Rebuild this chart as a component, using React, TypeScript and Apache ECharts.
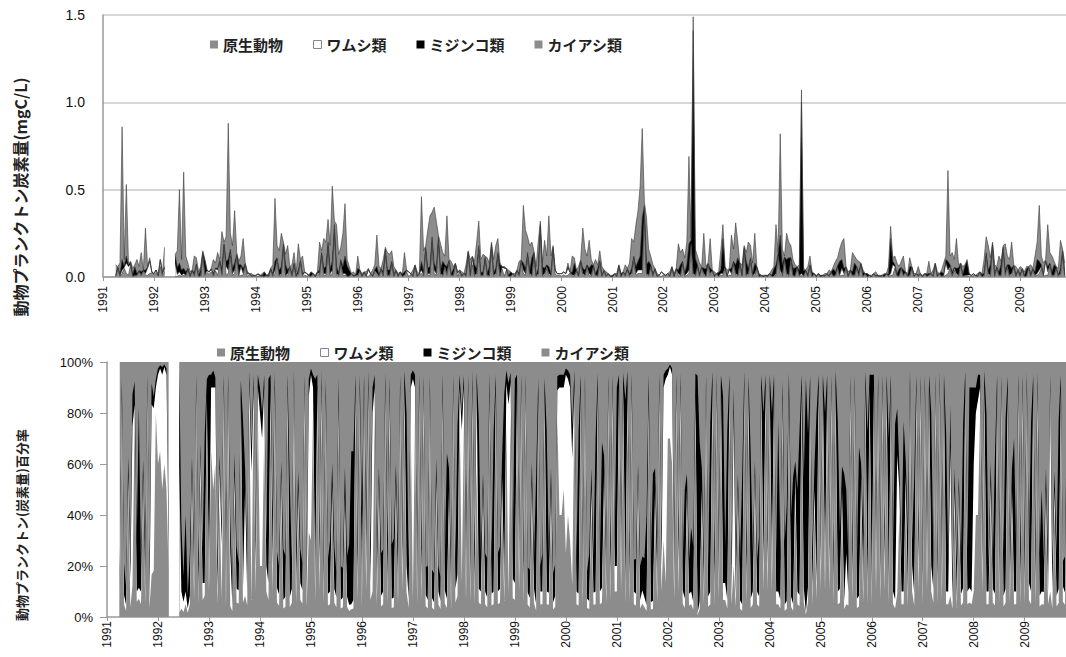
import React, { useEffect, useRef } from 'react';
import * as echarts from 'echarts';

const n = null;

const SERIES_NAMES = ['原生動物', 'ワムシ類', 'ミジンコ類', 'カイアシ類'];
const SERIES_COLORS = ['#8c8c8c', '#ffffff', '#000000', '#8c8c8c'];
const START_YEAR = 1991;
const SAMPLES_PER_YEAR = 24; // semi-monthly samples (1st and 16th)
const TOP_TITLE = '動物プランクトン炭素量(mgC/L)';
const BOTTOM_TITLE = '動物プランクトン(炭素量)百分率';

// 原生動物 (mgC/L), rows = years 1991..2009, Jan–Jun | Jul–Dec
const PROTO: (number | null)[] = [
  n,n,n,n,n,n,.004,.05,.004,.02,.05,.02, .01,.07,.003,.005,.005,.03,.007,.034,.01,.01,.02,.024,
  .012,.026,.005,.06,.01,.03,n,n,n,n,.002,.005, .01,.005,.01,.006,.04,.002,.034,.006,.06,.002,.005,.12,
  .01,.026,.015,.03,.005,.035,.01,.08,.01,.16,.01,.02, .12,.01,.02,.11,.005,.01,.01,.065,.002,.016,.002,.008,
  .002,.004,.007,.002,.002,.008,.002,.04,.004,.02,.08,.005, .01,.16,.005,.01,.045,.004,.06,.002,.01,.08,.005,.01,
  .006,.008,.002,.016,.001,.024,.01,.12,.01,.01,.15,.01, .02,.25,.01,.005,.07,.01,.01,.003,.002,.016,.002,.008,
  .005,.032,.002,.024,.002,.005,.016,.002,.03,.01,.003,.04, .005,.13,.005,.005,.07,.003,.032,.002,.024,.002,.005,.03,
  .002,.016,.002,.056,.002,.016,.02,.005,.14,.01,.01,.17, .02,.01,.19,.01,.005,.05,.01,.08,.005,.005,.065,.004,
  .03,.002,.016,.004,.12,.005,.07,.005,.01,.13,.005,.005, .095,.005,.004,.16,.005,.01,.1,.005,.045,.005,.04,.003,
  .002,.016,.002,.032,.005,.08,.02,.01,.1,.01,.005,.12, .003,.01,.25,.004,.01,.05,.01,.005,.14,.016,.008,.01,
  .005,.012,.006,.01,.024,.006,.005,.032,.003,.08,.01,.005, .05,.01,.005,.056,.005,.004,.07,.003,.032,.002,.016,.001,
  .001,.016,.002,.056,.001,.024,.004,.04,.004,.01,.09,.01, .02,.02,.02,.34,.01,.005,.05,.004,.04,.002,.003,.004,
  .014,.007,.012,.002,.048,.002,.04,.01,.005,.07,.005,.01, .02,.17,.01,.005,.05,.004,.048,.01,.003,.065,.01,.032,
  .002,.016,.002,.01,.01,.048,.002,.01,.01,.07,.01,.005, .065,.004,.14,.005,.01,.08,.004,.01,.048,.002,.008,.001,
  .008,.001,.016,.002,.003,.01,.11,.02,.005,.095,.01,.005, .08,.005,.003,.048,.004,.01,.003,.032,.003,.05,.002,.016,
  .001,.016,.001,.008,.002,.016,.002,.024,.003,.005,.045,.005, .01,.01,.048,.002,.032,.005,.005,.045,.005,.065,.002,.016,
  .001,.008,.001,.016,.002,.008,.001,.008,.001,.016,.003,.01, .01,.05,.004,.003,.04,.005,.024,.002,.005,.048,.002,.016,
  .003,.016,.001,.016,.002,.005,.016,.002,.065,.002,.016,.002, .004,.01,.02,.05,.005,.04,.01,.004,.065,.003,.004,.005,
  .002,.004,.008,.008,.002,.024,.001,.005,.1,.01,.005,.16, .004,.048,.005,.005,.14,.01,.05,.005,.01,.056,.003,.032,
  .003,.04,.002,.003,.048,.004,.04,.005,.01,.02,.05,.004, .01,.01,.06,.005,.005,.048,.003,.01,.13,.004,
];

// ワムシ類 (mgC/L)
const ROTIFER: (number | null)[] = [
  n,n,n,n,n,n,.002,.002,.003,.02,.005,.06, .05,.005,.002,.003,.005,.003,.005,.002,.01,.04,.07,.003,
  .007,.013,.0045,.038,.009,.02,n,n,n,n,.075,.01, .02,.005,.01,.004,.005,.002,.002,.004,.01,.002,.003,.01,
  .005,.01,.012,.015,.005,.012,.03,.01,.01,.02,.05,.02, .02,.01,.02,.01,.005,.05,.01,.008,.015,.002,.002,.001,
  .006,.01,.002,.002,.002,.001,.002,.005,.004,.02,.02,.005, .01,.02,.005,.01,.01,.004,.01,.002,.01,.01,.005,.016,
  .013,.001,.002,.002,.001,.003,.01,.01,.01,.01,.02,.01, .02,.02,.01,.005,.01,.01,.01,.002,.002,.002,.002,.001,
  .005,.004,.002,.003,.002,.035,.002,.002,.007,.01,.003,.005, .005,.02,.005,.005,.01,.003,.004,.002,.003,.002,.005,.006,
  .026,.002,.002,.007,.002,.002,.02,.005,.02,.01,.01,.03, .02,.01,.02,.01,.005,.01,.01,.01,.005,.005,.007,.018,
  .006,.002,.002,.004,.015,.005,.04,.005,.01,.03,.005,.005, .01,.005,.004,.02,.005,.01,.02,.005,.01,.045,.006,.003,
  .002,.002,.002,.004,.005,.01,.02,.01,.02,.01,.005,.01, .003,.01,.03,.004,.01,.01,.01,.005,.02,.02,.01,.008,
  .014,.016,.012,.04,.003,.006,.005,.004,.003,.01,.01,.005, .01,.01,.005,.007,.005,.004,.015,.003,.004,.002,.002,.001,
  .001,.002,.002,.007,.001,.003,.004,.005,.004,.01,.02,.01, .02,.02,.02,.03,.01,.005,.01,.004,.005,.002,.006,.024,
  .005,.0028,.007,.002,.006,.002,.005,.01,.005,.01,.005,.01, .02,.02,.01,.005,.01,.004,.006,.01,.003,.008,.01,.004,
  .002,.002,.002,.01,.01,.006,.002,.03,.01,.01,.01,.005, .008,.004,.02,.005,.01,.02,.004,.01,.006,.002,.001,.001,
  .001,.001,.002,.002,.003,.01,.01,.02,.005,.01,.01,.005, .02,.005,.003,.006,.004,.01,.003,.004,.003,.01,.002,.002,
  .001,.002,.001,.001,.002,.002,.002,.003,.003,.005,.01,.005, .04,.01,.006,.002,.004,.005,.005,.01,.005,.008,.002,.002,
  .001,.001,.001,.002,.002,.001,.001,.001,.001,.002,.003,.01, .06,.01,.004,.003,.01,.005,.003,.002,.005,.006,.002,.002,
  .003,.002,.001,.002,.002,.005,.002,.002,.008,.002,.002,.002, .004,.07,.02,.01,.005,.01,.01,.004,.008,.003,.004,.005,
  .01,.004,.009,.001,.002,.003,.001,.005,.02,.01,.005,.02, .004,.006,.005,.005,.02,.01,.01,.005,.01,.007,.003,.004,
  .003,.005,.002,.003,.006,.004,.005,.005,.01,.02,.01,.004, .08,.02,.01,.005,.005,.006,.003,.01,.01,.004,
];

// ミジンコ類 (mgC/L)
const CLADOCERA: (number | null)[] = [
  n,n,n,n,n,n,.007,.004,.01,.06,.008,.04, .01,.008,.01,.05,.01,.004,.02,.002,.02,.005,.005,.001,
  .0005,.0005,.0003,.001,.0005,.01,n,n,n,n,.05,.04, .05,.03,.03,.02,.005,.003,.002,.015,.005,.004,.035,.01,
  .08,.002,.002,.002,.01,.004,.01,.005,.03,.01,.03,.06, .02,.03,.04,.01,.06,.01,.03,.004,.003,.001,.002,.0005,
  .001,.002,.0005,.002,.024,.0005,.004,.003,.01,.05,.01,.03, .04,.01,.06,.02,.003,.01,.01,.004,.02,.005,.01,.002,
  .0005,.0005,.024,.001,.001,.002,.02,.01,.03,.04,.03,.03, .05,.03,.04,.015,.02,.04,.1,.06,.035,.001,.004,.0005,
  .04,.002,.003,.002,.004,.005,.001,.005,.004,.04,.01,.003, .02,.01,.03,.03,.01,.01,.002,.002,.002,.012,.02,.002,
  .001,.001,.005,.004,.004,.001,.05,.02,.01,.03,.04,.03, .04,.03,.02,.02,.08,.01,.04,.005,.01,.035,.004,.002,
  .002,.004,.001,.01,.01,.015,.005,.06,.03,.02,.015,.02, .01,.015,.05,.01,.015,.03,.02,.06,.003,.005,.002,.004,
  .024,.001,.002,.002,.01,.005,.04,.03,.02,.02,.1,.01, .006,.03,.02,.05,.03,.01,.04,.015,.01,.002,.001,.001,
  .0005,.001,.001,.01,.002,.015,.07,.002,.006,.005,.03,.03, .01,.03,.06,.004,.01,.04,.01,.006,.002,.004,.001,.001,
  .007,.001,.002,.004,.015,.002,.007,.003,.01,.03,.01,.04, .05,.08,.3,.04,.05,.08,.01,.01,.003,.002,.0005,.001,
  .0005,.0001,.0005,.004,.003,.002,.003,.02,.06,.01,.015,.05, .15,.02,1.39,.1,.01,.01,.003,.03,.04,.004,.03,.002,
  .004,.001,.022,.02,.2,.003,.004,.005,.03,.01,.05,.1, .004,.01,.01,.08,.03,.01,.01,.06,.003,.012,.0005,.001,
  .0005,.006,.001,.006,.04,.05,.01,.2,.06,.01,.08,.1, .01,.04,.045,.003,.03,.98,.03,.002,.01,.01,.02,.001,
  .001,.001,.006,.0005,.002,.001,.004,.002,.04,.02,.01,.08, .05,.03,.003,.004,.002,.02,.07,.005,.02,.004,.025,.001,
  .017,.0005,.001,.001,.004,.0005,.001,.0005,.012,.001,.01,.2, .02,.01,.01,.04,.005,.03,.002,.002,.05,.003,.002,.001,
  .006,.001,.001,.001,.012,.01,.001,.004,.004,.004,.001,.025, .01,.02,.05,.01,.02,.005,.03,.045,.004,.01,.055,.08,
  .006,.001,.002,.0005,.002,.002,.014,.01,.02,.02,.06,.01, .01,.003,.02,.06,.01,.02,.01,.06,.03,.004,.01,.002,
  .01,.003,.004,.04,.003,.01,.003,.02,.08,.05,.01,.01, .005,.03,.01,.02,.06,.003,.005,.03,.01,.01,
];

// カイアシ類 (mgC/L)
const COPEPODA: (number | null)[] = [
  n,n,n,n,n,n,.057,.004,.063,.76,.037,.41, .01,.007,.035,.012,.08,.023,.108,.002,.24,.005,.015,.002,
  .0005,.0005,.0002,.001,.0005,.11,n,n,n,n,.003,.095, .42,.06,.55,.09,.03,.023,.002,.095,.035,.022,.017,.01,
  .005,.002,.001,.003,.08,.029,.09,.005,.21,.01,.14,.78, .09,.13,.3,.01,.02,.05,.17,.003,.01,.001,.014,.0005,
  .001,.004,.0005,.014,.002,.0005,.012,.002,.052,.36,.07,.11, .19,.01,.06,.14,.002,.052,.06,.022,.15,.005,.1,.002,
  .0005,.0005,.002,.001,.007,.001,.16,.01,.17,.14,.13,.13, .43,.02,.24,.105,.07,.19,.3,.035,.021,.001,.022,.0005,
  .07,.002,.013,.001,.022,.005,.001,.031,.029,.18,.044,.002, .07,.01,.1,.09,.06,.044,.002,.014,.001,.004,.11,.002,
  .001,.001,.031,.003,.022,.001,.37,.12,.01,.22,.29,.14, .32,.27,.01,.15,.05,.05,.29,.005,.07,.015,.004,.006,
  .002,.022,.001,.052,.005,.075,.005,.02,.15,.14,.075,.1, .005,.085,.022,.01,.075,.13,.08,.01,.002,.005,.002,.03,
  .002,.001,.014,.002,.07,.005,.33,.22,.09,.14,.09,.01, .048,.15,.02,.022,.16,.05,.29,.095,.01,.002,.001,.001,
  .0005,.001,.001,.02,.001,.093,.03,.002,.048,.005,.23,.12, .05,.16,.03,.003,.08,.022,.055,.048,.002,.022,.001,.007,
  .001,.001,.014,.003,.003,.001,.055,.002,.062,.17,.08,.24, .29,.4,.51,.02,.27,.07,.05,.052,.002,.014,.0005,.001,
  .0005,.0001,.0005,.022,.003,.014,.002,.15,.07,.07,.085,.13, .5,.01,.08,.05,.05,.062,.003,.2,.014,.003,.17,.002,
  .022,.001,.004,.11,.08,.003,.032,.005,.19,.07,.24,.09, .003,.052,.01,.05,.15,.07,.062,.17,.003,.004,.0005,.007,
  .0005,.002,.001,.03,.014,.23,.01,.58,.09,.005,.15,.09, .07,.05,.019,.003,.032,.07,.014,.002,.044,.05,.006,.001,
  .007,.001,.002,.0005,.014,.001,.032,.001,.014,.06,.045,.07, .1,.17,.003,.022,.002,.11,.04,.04,.06,.003,.011,.001,
  .001,.0005,.007,.001,.022,.0005,.007,.0005,.006,.001,.044,.07, .02,.05,.062,.014,.035,.08,.001,.014,.05,.003,.014,.001,
  .048,.001,.007,.001,.004,.07,.001,.032,.003,.022,.001,.011, .062,.02,.52,.05,.11,.045,.17,.017,.003,.044,.007,.01,
  .002,.001,.001,.0005,.014,.001,.004,.08,.09,.14,.04,.01, .052,.003,.09,.02,.01,.15,.05,.03,.15,.003,.044,.002,
  .044,.002,.022,.014,.003,.052,.002,.09,.1,.32,.05,.062, .005,.24,.06,.09,.02,.003,.039,.16,.01,.062,
];

const RAW = [PROTO, ROTIFER, CLADOCERA, COPEPODA];

export default function App() {
  const ref = useRef<HTMLDivElement>(null);

  useEffect(() => {
    if (!ref.current) return;
    const chart = echarts.init(ref.current, null, { renderer: 'svg' });

    const len = PROTO.length;
    const X: number[] = [];
    for (let i = 0; i < len; i++) X.push(START_YEAR + i / SAMPLES_PER_YEAR);

    // cumulative (stacked) tops of each layer, bottom layer first
    const cumAbs: (number | null)[][] = RAW.map(() => []);
    const cumPct: (number | null)[][] = RAW.map(() => []);
    for (let i = 0; i < len; i++) {
      const vals = RAW.map((a) => a[i]);
      if (vals.some((v) => v == null)) {
        RAW.forEach((_, k) => {
          cumAbs[k].push(null);
          cumPct[k].push(null);
        });
        continue;
      }
      const total = (vals as number[]).reduce((s, v) => s + v, 0);
      let run = 0;
      (vals as number[]).forEach((v, k) => {
        run += v;
        cumAbs[k].push(run);
        cumPct[k].push(total > 0 ? (run / total) * 100 : null);
      });
    }

    const numFont = 'Liberation Sans, Arial, sans-serif';
    const jpFont = '"Noto Sans CJK JP", sans-serif';

    const yearFmt = (v: number) =>
      Math.abs(v - Math.round(v)) < 1e-6 ? String(Math.round(v)) : '';

    const series: any[] = [];
    // draw top layer first so lower layers paint over it (visually a stacked area)
    for (let k = RAW.length - 1; k >= 0; k--) {
      series.push({
        name: SERIES_NAMES[k],
        type: 'line',
        xAxisIndex: 0,
        yAxisIndex: 0,
        symbol: 'none',
        showSymbol: false,
        connectNulls: false,
        silent: true,
        color: SERIES_COLORS[k],
        itemStyle: { color: SERIES_COLORS[k] },
        lineStyle: { width: 0.6, color: '#3a3a3a' },
        areaStyle: { color: SERIES_COLORS[k], opacity: 1 },
        data: X.map((x, i) => [x, cumAbs[k][i]]),
      });
    }
    for (let k = RAW.length - 1; k >= 0; k--) {
      series.push({
        name: SERIES_NAMES[k],
        type: 'line',
        xAxisIndex: 1,
        yAxisIndex: 1,
        symbol: 'none',
        showSymbol: false,
        connectNulls: false,
        silent: true,
        color: SERIES_COLORS[k],
        itemStyle: { color: SERIES_COLORS[k] },
        lineStyle: { width: 0 },
        areaStyle: { color: SERIES_COLORS[k], opacity: 1 },
        data: X.map((x, i) => [x, cumPct[k][i]]),
      });
    }

    const legendData = SERIES_NAMES.map((name, i) => ({
      name,
      itemStyle:
        i === 1
          ? { color: '#ffffff', borderColor: '#888', borderWidth: 1 }
          : { color: SERIES_COLORS[i], borderWidth: 0 },
    }));
    const legendBase = {
      icon: 'rect',
      itemWidth: 8,
      itemHeight: 8,
      itemGap: 30,
      selectedMode: false,
      textStyle: { fontSize: 15, fontFamily: jpFont, fontWeight: 'bold', color: '#222' },
      data: legendData,
    };

    const xAxisBase = {
      type: 'value',
      min: 1991,
      interval: 1,
      axisLine: { show: true, onZero: false, lineStyle: { color: '#999', width: 1.5 } },
      axisTick: { show: true, length: 4, lineStyle: { color: '#999' } },
      splitLine: { show: false },
      axisLabel: { rotate: 90, formatter: yearFmt, fontSize: 12, fontFamily: numFont, color: '#111' },
    };

    chart.setOption({
      animation: false,
      backgroundColor: '#fff',
      grid: [
        { left: 103, right: 0, top: 15, height: 262, containLabel: false },
        { left: 107, right: 0, top: 362, height: 255, containLabel: false },
      ],
      legend: [
        { ...legendBase, left: 205, top: 32 },
        { ...legendBase, left: 212, top: 340 },
      ],
      xAxis: [
        { ...xAxisBase, gridIndex: 0, max: 2009.9, axisLabel: { ...xAxisBase.axisLabel, margin: 9 } },
        { ...xAxisBase, gridIndex: 1, max: 2009.81, axisLabel: { ...xAxisBase.axisLabel, margin: 4 } },
      ],
      yAxis: [
        {
          type: 'value',
          gridIndex: 0,
          min: 0,
          max: 1.5,
          interval: 0.5,
          axisLine: { show: true, lineStyle: { color: '#999', width: 1.5 } },
          axisTick: { show: false },
          splitLine: { show: true, lineStyle: { color: '#c8c8c8', width: 1.5 } },
          axisLabel: {
            formatter: (v: number) => v.toFixed(1),
            fontSize: 14,
            fontFamily: numFont,
            color: '#111',
            margin: 18,
          },
        },
        {
          type: 'value',
          gridIndex: 1,
          min: 0,
          max: 100,
          interval: 20,
          axisLine: { show: true, lineStyle: { color: '#999', width: 1.5 } },
          axisTick: { show: true, length: 7, lineStyle: { color: '#999' } },
          splitLine: { show: false },
          axisLabel: {
            formatter: '{value}%',
            fontSize: 13,
            fontFamily: numFont,
            color: '#111',
            margin: 14,
          },
        },
      ],
      graphic: [
        {
          type: 'text',
          x: 20,
          y: 197,
          rotation: Math.PI / 2,
          style: {
            text: TOP_TITLE,
            fontSize: 16,
            fontFamily: jpFont,
            fontWeight: 'bold',
            fill: '#222',
            align: 'center',
            verticalAlign: 'middle',
            textAlign: 'center',
            textVerticalAlign: 'middle',
          },
        },
        {
          type: 'text',
          x: 21,
          y: 525,
          rotation: Math.PI / 2,
          style: {
            text: BOTTOM_TITLE,
            fontSize: 13,
            fontFamily: jpFont,
            fontWeight: 'bold',
            fill: '#222',
            align: 'center',
            verticalAlign: 'middle',
            textAlign: 'center',
            textVerticalAlign: 'middle',
          },
        },
      ],
      series,
    });

    return () => chart.dispose();
  }, []);

  return (
    <div
      ref={ref}
      style={{ position: 'fixed', left: 0, top: 0, width: 1066, height: 657, background: '#fff' }}
    />
  );
}
